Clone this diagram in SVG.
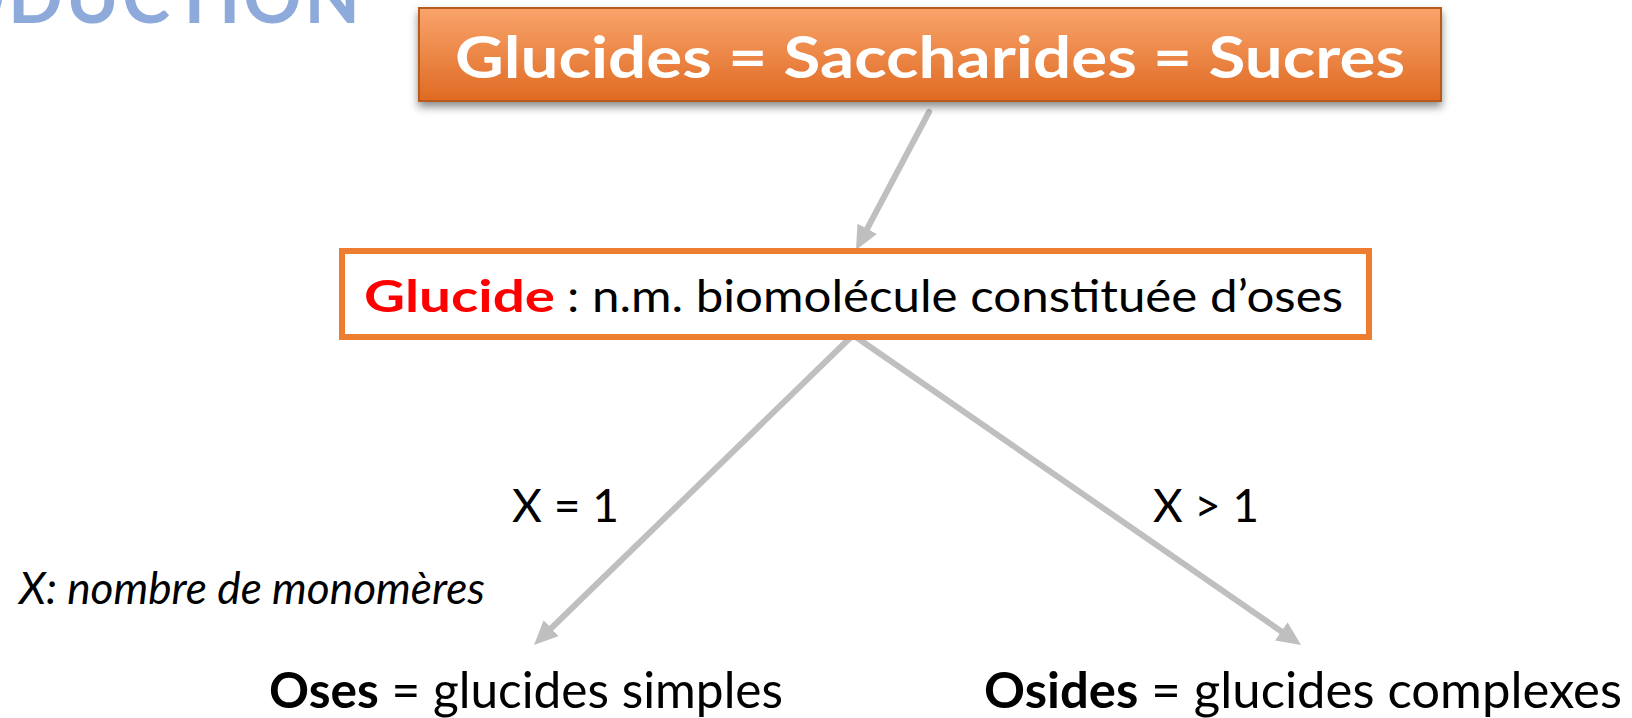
<svg xmlns="http://www.w3.org/2000/svg" width="1632" height="718" viewBox="0 0 1632 718">
<style>
.t{font-family:Lato,"Open Sans","Liberation Sans",sans-serif;fill:#000}
.b{font-weight:bold}
.conn{stroke:#BFBFBF;stroke-width:6;fill:none}
</style>
<defs>
<linearGradient id="og" x1="0" y1="0" x2="0" y2="1">
<stop offset="0" stop-color="#F9A46C"/>
<stop offset="1" stop-color="#DF6A22"/>
</linearGradient>
<filter id="sh" x="-5%" y="-20%" width="110%" height="150%">
<feDropShadow dx="0" dy="5" stdDeviation="4" flood-color="#000" flood-opacity="0.45"/>
</filter>
<marker id="ah" markerUnits="userSpaceOnUse" markerWidth="26" markerHeight="24" refX="9" refY="11" orient="auto">
<path d="M0,0 L24,11 L0,22 z" fill="#BFBFBF"/>
</marker>
</defs>
<rect width="1632" height="718" fill="#fff"/>
<text x="363" y="23" text-anchor="end" font-family="Lato,'Liberation Sans',sans-serif" font-weight="bold" font-size="72" fill="#8EAADB" letter-spacing="3">INTRODUCTION</text>
<g id="connectors">
<path class="conn" stroke-linecap="round" d="M929,112 L863,236.7" marker-end="url(#ah)"/>
<path class="conn" d="M853,335 L544.8,634.5" marker-end="url(#ah)"/>
<path class="conn" d="M853,335 L1288.7,636.5" marker-end="url(#ah)"/>
</g>
<g id="title">
<rect x="419" y="8" width="1022" height="93" fill="url(#og)" stroke="#B85A1E" stroke-width="2" filter="url(#sh)"/>
<text x="455" y="78" class="t b" font-size="58" fill="#fff" style="fill:#fff" textLength="950" lengthAdjust="spacingAndGlyphs">Glucides = Saccharides = Sucres</text>
</g>
<g id="definition">
<rect x="342" y="251" width="1027" height="86" fill="#fff" stroke="#ED7D31" stroke-width="6"/>
<text x="364" y="312" class="t b" font-size="44" style="fill:#FF0000" textLength="191" lengthAdjust="spacingAndGlyphs">Glucide</text>
<text x="567" y="312" class="t" font-size="44" textLength="776" lengthAdjust="spacingAndGlyphs">: n.m. biomolécule constituée d’oses</text>
</g>
<g id="label-x1">
<text x="512" y="522" class="t" font-size="46" textLength="107" lengthAdjust="spacingAndGlyphs">X = 1</text>
</g>
<g id="label-xgt1">
<text x="1153" y="522" class="t" font-size="46" textLength="106" lengthAdjust="spacingAndGlyphs">X &gt; 1</text>
</g>
<g id="note">
<text x="19" y="604" class="t" font-style="italic" font-size="44" textLength="466" lengthAdjust="spacingAndGlyphs">X: nombre de monomères</text>
</g>
<g id="oses">
<text x="269" y="708" class="t" font-size="50" textLength="514" lengthAdjust="spacingAndGlyphs"><tspan font-weight="bold">Oses</tspan> = glucides simples</text>
</g>
<g id="osides">
<text x="984" y="708" class="t" font-size="50" textLength="638" lengthAdjust="spacingAndGlyphs"><tspan font-weight="bold">Osides</tspan> = glucides complexes</text>
</g>
</svg>
